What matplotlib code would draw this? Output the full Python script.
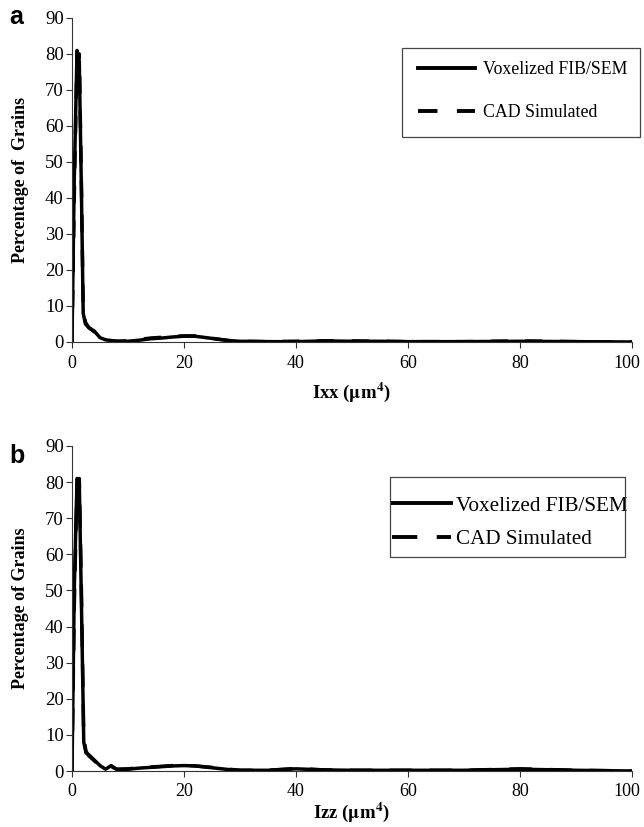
import numpy as np
import matplotlib
matplotlib.use("Agg")
import matplotlib.pyplot as plt
import matplotlib.transforms as mtrans
from matplotlib.patches import Rectangle

plt.rcParams['font.family'] = ['Liberation Serif', 'DejaVu Serif']
plt.rcParams['mathtext.fontset'] = 'stix'

# panel a : Ixx
xa = [0, 0.4, 0.9, 1.3, 1.7, 2.0, 2.4, 3, 4, 5, 6, 8, 10, 12, 14, 16, 18, 20, 22, 24, 26, 28, 30,
      35, 40, 45, 50, 55, 60, 70, 80, 90, 100]
vox_a = [0, 45, 81, 78, 40, 8, 5, 4, 3, 1.2, 0.6, 0.2, 0.2, 0.5, 0.9, 1.1, 1.4, 1.6, 1.6, 1.2, 0.8, 0.4, 0.2,
         0.1, 0.1, 0.3, 0.2, 0.2, 0.1, 0.1, 0.2, 0.1, 0]
cad_a = [0, 40, 80, 80, 42, 9, 5.5, 4, 2.8, 1.0, 0.5, 0.2, 0.3, 0.7, 1.1, 1.3, 1.6, 1.7, 1.7, 1.3, 0.8, 0.4, 0.2,
         0.1, 0.2, 0.3, 0.3, 0.2, 0.1, 0.1, 0.3, 0.1, 0]

# panel b : Izz
xb = [0, 0.4, 0.9, 1.3, 1.7, 2.1, 2.5, 3, 4, 5, 6, 7, 8, 10, 12, 15, 18, 20, 22, 25, 28, 30,
      35, 40, 45, 50, 60, 70, 80, 90, 100]
vox_b = [0, 50, 81, 80, 45, 8, 5, 4.5, 3, 1.5, 0.5, 1.5, 0.4, 0.5, 0.8, 1.1, 1.4, 1.5, 1.4, 0.9, 0.4, 0.2,
         0.2, 0.6, 0.3, 0.2, 0.2, 0.2, 0.5, 0.2, 0]
cad_b = [0, 45, 80, 81, 48, 9, 5.5, 4.2, 2.8, 1.3, 0.6, 1.2, 0.5, 0.6, 0.9, 1.2, 1.5, 1.6, 1.4, 1.0, 0.5, 0.2,
         0.2, 0.7, 0.3, 0.2, 0.2, 0.2, 0.6, 0.2, 0]

W, H = 644, 827
fig = plt.figure(figsize=(6.44, 8.27), dpi=100)
ax1 = fig.add_axes([72 / W, 1 - 342 / H, 560 / W, 324 / H])
ax2 = fig.add_axes([72 / W, 1 - 771 / H, 560 / W, 325 / H])

def px(x, y):
    return x / W, 1 - y / H

# ax, x, vox, cad, xlabel, ylabel, letter, letter_y, xlabel_y, legend font, legend anchor (px),
# handlelength, handletextpad, labelspacing, dash, frame box (px)
panels = [
    (ax1, xa, vox_a, cad_a, r'Ixx ($\mathbf{\mu}$m$^{\mathbf{4}}$)', 'Percentage of  Grains', 'a', 17,
     -0.154, 12.8, (418, 61), 3.2, 0.45, 1.45, (5, 5), (402, 48, 640, 137)),
    (ax2, xb, vox_b, cad_b, r'Izz ($\mathbf{\mu}$m$^{\mathbf{4}}$)', 'Percentage of Grains', 'b', 456,
     -0.126, 15.2, (392, 496), 2.8, 0.25, 0.65, (6.5, 5), (390, 477, 625, 557)),
]

for (ax, x, v, c, xl, yl, letter, ly, xly, lfs, lanc, hl, htp, lsp, dash, box) in panels:
    ax.plot(x, v, color='black', lw=2.5, label='Voxelized FIB/SEM')
    ax.plot(x, c, color='black', lw=2.5, ls=(0, dash), label='CAD Simulated')
    ax.set_xlim(0, 100)
    ax.set_ylim(0, 90)
    ax.set_xticks(range(0, 101, 20))
    ax.set_yticks(range(0, 91, 10))
    ax.spines['top'].set_visible(False)
    ax.spines['right'].set_visible(False)
    for s in ['left', 'bottom']:
        ax.spines[s].set_linewidth(0.8)
        ax.spines[s].set_color('#333333')
    ax.tick_params(axis='y', length=4.5, width=0.8, labelsize=13.5, color='#333333', pad=1.5)
    ax.tick_params(axis='x', length=4, width=0.8, labelsize=13, color='#333333', pad=5)
    # nudge the "100" label so it stays inside the figure
    last = ax.get_xticklabels()[-1]
    last.set_transform(last.get_transform() + mtrans.ScaledTranslation(-5 / 100, 0, fig.dpi_scale_trans))
    ax.set_xlabel(xl, fontsize=13.5, fontweight='bold')
    ax.xaxis.set_label_coords(0.5, xly)
    ax.xaxis.label.set_va('center')
    ax.set_ylabel(yl, fontsize=13, fontweight='bold')
    ax.yaxis.set_label_coords(-0.092, 0.5)
    ax.yaxis.label.set_va('center')
    fig.text(9 / W, 1 - ly / H, letter, fontsize=18, fontweight='bold', family='Liberation Sans',
             va='center', ha='left')
    leg = ax.legend(loc='upper left', bbox_to_anchor=px(*lanc), bbox_transform=fig.transFigure,
                    fontsize=lfs, frameon=False, handlelength=hl, handletextpad=htp,
                    labelspacing=lsp, borderpad=0, borderaxespad=0)
    for h in leg.get_lines():
        h.set_linewidth(2.8)
    x0, y0 = px(box[0], box[3])
    fig.patches.append(Rectangle((x0, y0), (box[2] - box[0]) / W, (box[3] - box[1]) / H,
                                 transform=fig.transFigure, fill=False, edgecolor='#444444', lw=0.9))

fig.savefig('out.png', dpi=100)
